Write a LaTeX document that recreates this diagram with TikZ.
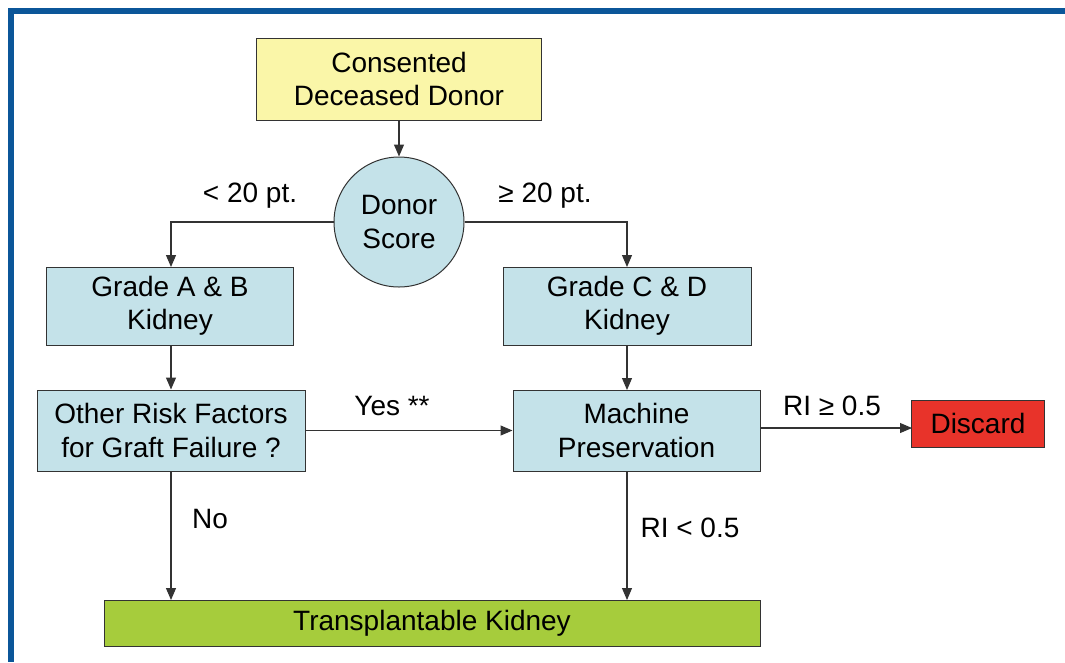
\documentclass[tikz,border=0pt]{standalone}
\usepackage{fontspec}
\setmainfont{Liberation Sans}
\usetikzlibrary{arrows.meta,positioning}
\definecolor{frameblue}{HTML}{0B5699}
\definecolor{boxblue}{HTML}{C4E2E9}
\definecolor{boxyellow}{HTML}{FAF6A8}
\definecolor{boxred}{HTML}{E8332A}
\definecolor{boxgreen}{HTML}{A6CC3C}
\definecolor{edge}{HTML}{333333}
\tikzset{
  base/.style={draw=edge, line width=1pt, inner sep=0pt, align=center,
    font=\fontsize{28}{33.5}\selectfont},
  bluebox/.style={base, fill=boxblue},
  conn/.style={draw=edge, line width=1.1pt, -{Triangle[length=12pt,width=10pt]}},
  lbl/.style={font=\fontsize{28}{33.5}\selectfont, inner sep=0pt}
}
\begin{document}
\begin{tikzpicture}[x=1pt,y=-1pt]
\useasboundingbox (0,0) rectangle (1065,662);
\fill[white] (0,0) rectangle (1065,662);
% frame (top and left edges visible)
\draw[frameblue!50, line width=1pt] (8,8) -- (1065,8);
\draw[frameblue, line width=5.5pt] (1065,11) -- (10.75,11) -- (10.75,662);

\node[base, fill=boxyellow, minimum width=285pt, minimum height=82pt] (cdd) at (399,79) {Consented\\Deceased Donor};
\node[bluebox, circle, minimum size=130pt] (ds) at (399,222) {Donor\\Score};
\node[bluebox, minimum width=247pt, minimum height=78pt] (ab) at (170,306) {Grade A \& B\\Kidney};
\node[bluebox, minimum width=248pt, minimum height=78pt] (cd) at (627,306) {Grade C \& D\\Kidney};
\node[bluebox, minimum width=268pt, minimum height=81pt] (orf) at (171,430.5) {Other Risk Factors\\for Graft Failure ?};
\node[bluebox, minimum width=247pt, minimum height=81pt] (mp) at (636.5,430.5) {Machine\\Preservation};
\node[base, fill=boxred, minimum width=133pt, minimum height=47pt] (disc) at (978,423.5) {Discard};
\node[base, fill=boxgreen, minimum width=656pt, minimum height=46pt] (tk) at (432,623) {Transplantable Kidney};

\coordinate (abin) at (171,267);
\coordinate (tkl) at (171,600);
\coordinate (cdin) at (627,267);
\coordinate (mpin) at (627,390);
\coordinate (mpout) at (627,471);
\coordinate (tkr) at (627,600);
\coordinate (mpe) at (760,428);
\coordinate (disw) at (912,428);

\draw[conn] (cdd.south) -- (ds.north);
\draw[conn] (ds.west) -| (abin);
\draw[conn] (ds.east) -| (cdin);
\draw[conn] (ab.south -| abin) -- (orf.north);
\draw[conn] (cd.south) -- (mpin);
\draw[conn] (orf.east) -- (mp.west);
\draw[conn] (mpe) -- (disw);
\draw[conn] (orf.south) -- (tkl);
\draw[conn] (mpout) -- (tkr);

\node[lbl] (l1) at (250,196) {< 20 pt.};
\node[lbl] (l2) at (545,196) {≥ 20 pt.};
\node[lbl] (l3) at (392,406) {Yes **};
\node[lbl] (l4) at (832,406) {RI ≥ 0.5};
\node[lbl] (l5) at (210,519) {No};
\node[lbl] (l6) at (690,528) {RI < 0.5};
\end{tikzpicture}
\end{document}
